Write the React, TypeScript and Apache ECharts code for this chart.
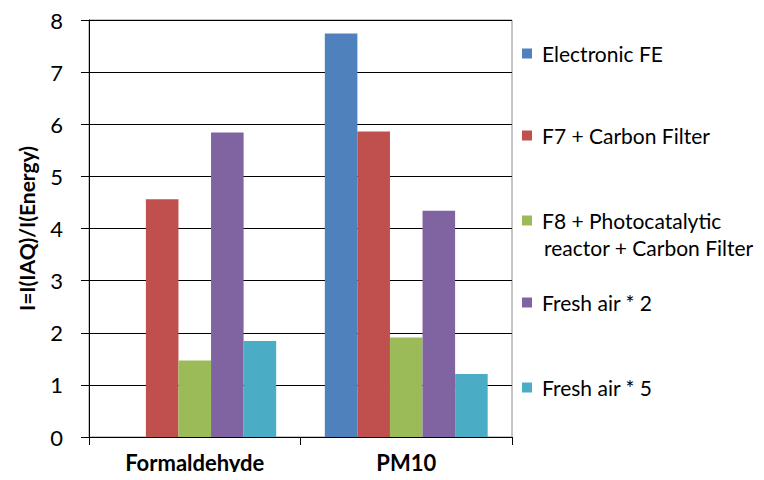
import React, { useEffect, useRef } from "react";
import * as echarts from "echarts";

const categories = ["Formaldehyde", "PM10"];
const seriesNames = [
  "Electronic FE",
  "F7 + Carbon Filter",
  "F8 + Photocatalytic reactor + Carbon Filter",
  "Fresh air * 2",
  "Fresh air * 5",
];
const electronicFE = [0, 7.74];
const f7Carbon = [4.56, 5.86];
const f8Photo = [1.47, 1.91];
const freshAir2 = [5.84, 4.34];
const freshAir5 = [1.84, 1.21];
const yTicks = [0, 1, 2, 3, 4, 5, 6, 7, 8];
const colors = ["#4F81BD", "#C0504D", "#9BBB59", "#8064A2", "#4BACC6"];
const legendTops = [43, 125, 210, 292, 377];

const FONT = "Lato";

export default function App() {
  const ref = useRef<HTMLDivElement>(null);
  useEffect(() => {
    if (!ref.current) return;
    const chart = echarts.init(ref.current, undefined, { renderer: "svg" });
    const data = [electronicFE, f7Carbon, f8Photo, freshAir2, freshAir5];
    const legends = seriesNames.map((n, i) => ({
      show: true,
      data: [n],
      orient: "vertical" as const,
      left: 522,
      top: legendTops[i],
      itemWidth: 10,
      itemHeight: 10,
      itemGap: 0,
      padding: 0,
      icon: "rect",
      selectedMode: false,
      formatter: (name: string) =>
        name.startsWith("F8") ? "F8 + Photocatalytic" : name,
      textStyle: { fontFamily: FONT, fontSize: 21, color: "#000", padding: [0, 0, 0, 5] },
    }));
    chart.setOption({
      animation: false,
      backgroundColor: "#fff",
      color: colors,
      textStyle: { fontFamily: FONT },
      grid: { left: 89, right: 252, top: 20, bottom: 43, containLabel: false, show: true, borderColor: "#8c8c8c", borderWidth: 1 },
      legend: legends,
      graphic: [
        {
          type: "text",
          left: 544,
          top: legendTops[2] + 27,
          style: { text: "reactor + Carbon Filter", font: `21px ${FONT}`, fill: "#000" },
        },
      ],
      xAxis: {
        type: "category",
        data: categories,
        axisLine: { lineStyle: { color: "#000", width: 1 } },
        axisTick: { show: true, length: 8, lineStyle: { color: "#000" } },
        axisLabel: { fontFamily: FONT, fontSize: 22, fontWeight: "bold", color: "#000", margin: 14 },
      },
      yAxis: {
        type: "value",
        min: 0,
        max: 8,
        interval: 1,
        name: "I=I(IAQ)/I(Energy)",
        nameLocation: "middle",
        nameGap: 52,
        nameTextStyle: { fontFamily: FONT, fontSize: 21, fontWeight: "bold", color: "#000" },
        axisLine: { show: true, lineStyle: { color: "#000", width: 1 } },
        axisTick: { show: true, length: 8, lineStyle: { color: "#000" } },
        axisLabel: {
          fontFamily: FONT,
          fontSize: 22,
          color: "#000",
          margin: 26,
          formatter: (v: number) => (yTicks.includes(v) ? String(v) : ""),
        },
        splitLine: { lineStyle: { color: "#000", width: 1 } },
      },
      series: seriesNames.map((n, i) => ({
        name: n,
        type: "bar",
        data: data[i],
        barGap: "0%",
        barCategoryGap: "23%",
        itemStyle: { color: colors[i] },
      })),
    });
    return () => chart.dispose();
  }, []);
  return <div ref={ref} style={{ width: 764, height: 480, margin: -8 }} />;
}
